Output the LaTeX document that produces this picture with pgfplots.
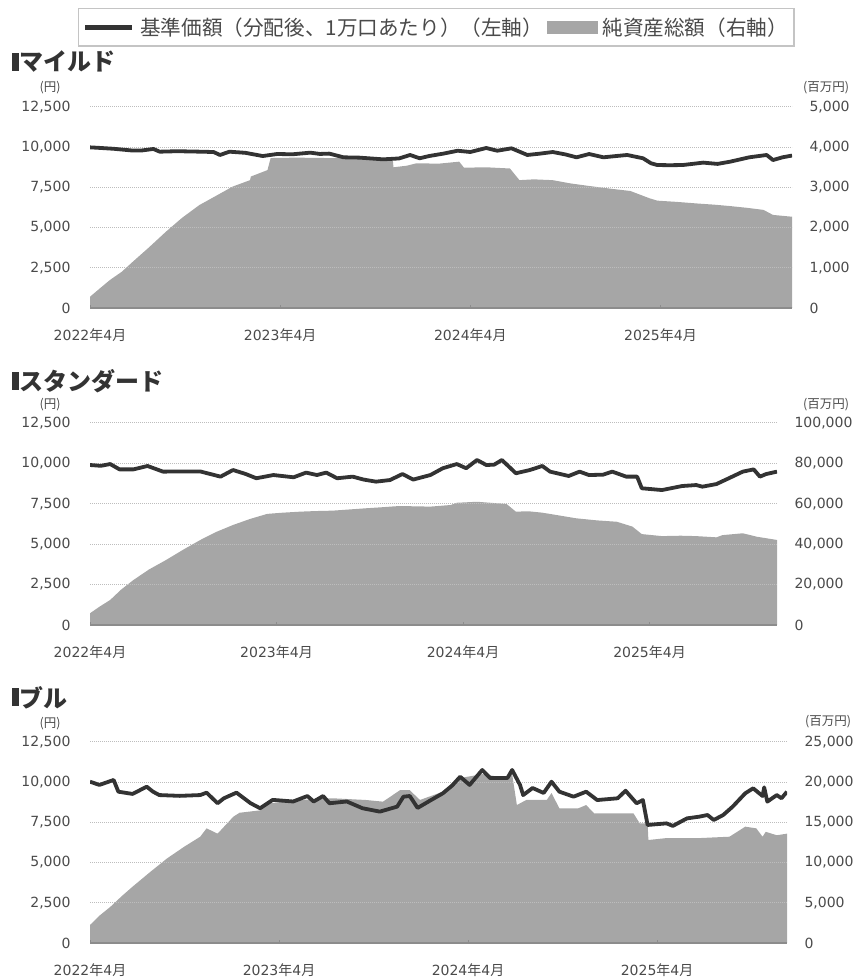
\documentclass[border=0pt]{standalone}
\usepackage{fontspec}
\setmainfont{Noto Sans CJK JP}
\newfontfamily\jp{Noto Sans CJK JP}
\newfontfamily\numfont{DejaVu Sans}
\usepackage{pgfplots}
\pgfplotsset{compat=1.18}

\definecolor{navline}{HTML}{333333}
\definecolor{areagray}{HTML}{A6A6A6}
\definecolor{gridgray}{HTML}{BDBDBD}
\definecolor{legendgray}{HTML}{C4C4C4}
\definecolor{txtgray}{HTML}{4A4A4A}
\definecolor{basegray}{HTML}{8C8C8C}

\pgfplotsset{
  panel/.style={
    scale only axis, anchor=south west, xmin=0,
    ymin=0,
    ticklabel style={font=\numfont\fontsize{14}{16}\selectfont, text=txtgray},
    /pgf/number format/fixed,
    /pgf/number format/assume math mode=true,
    /pgf/number format/1000 sep={,},
    scaled y ticks=false,
  },
  leftax/.style={
    panel, ymax=12500, ytick={0,2500,...,12500},
    axis x line*=bottom, axis y line*=left,
    y axis line style={draw=none},
    x axis line style={draw=basegray, line width=1.2pt, -},
    ymajorgrids, major grid style={gridgray, line width=1pt, dash pattern=on 1pt off 1pt},
    xtick={0,12,24,36},
    xticklabels={2022{\jp 年}4{\jp 月},2023{\jp 年}4{\jp 月},2024{\jp 年}4{\jp 月},2025{\jp 年}4{\jp 月}},
    xtick style={draw=basegray, line width=1pt},
    major tick length=3pt,
    ytick style={draw=none},
    yticklabel style={xshift=-16pt},
    xticklabel style={yshift=-17pt},
  },
  rightax/.style={
    panel, axis x line=none, axis y line*=right,
    y axis line style={draw=none}, ytick style={draw=none},
    yticklabel style={anchor=west, xshift=14pt},
  },
  nav/.style={navline, line width=3.8pt, line join=round},
  aum/.style={fill=areagray, draw=none},
}

\begin{document}
\begin{tikzpicture}
\useasboundingbox (0,0) rectangle (856pt,979pt);

% ---------- マイルド ----------
\begin{axis}[rightax, at={(90pt,671pt)}, width=702pt, height=201pt, xmax=44.3,
  ymax=5000, ytick={0,1000,...,5000}]
\addplot[aum] coordinates {
(0,280)(0.6,480)(1.26,697)(2,900)(2.7,1150)(3.7,1500)(4.8,1900)(5.8,2240)(6.9,2560)(8,2800)(9,3020)(10.1,3180)(10.15,3270)(11.2,3430)(11.4,3730)(13,3740)(15,3730)(17,3720)(19.1,3720)(19.15,3500)(20,3540)(20.6,3600)(22,3590)(23.3,3640)(23.6,3490)(25,3500)(26.5,3470)(27.1,3180)(28,3200)(29.2,3180)(30.3,3100)(31.5,3035)(32.8,2970)(34.1,2910)(35.3,2730)(35.8,2670)(37,2640)(38.3,2600)(39.4,2570)(40.4,2535)(41.5,2490)(42.5,2440)(43.1,2315)(44.3,2270)
} \closedcycle;
\end{axis}
\begin{axis}[leftax, at={(90pt,671pt)}, width=702pt, height=201pt, xmax=44.3,
  legend columns=2,
  legend style={at={(0.4934,1.4925)}, anchor=north, draw=legendgray, line width=1.5pt,
    font=\jp\fontsize{20.6}{23}\selectfont, text=txtgray, inner xsep=4pt, inner ysep=8pt,
    nodes={inner xsep=2pt, inner ysep=1pt},
    /tikz/every odd column/.append style={column sep=3pt},
    /tikz/every even column/.append style={column sep=2pt}},
  legend cell align=left]
\addplot[nav, forget plot] coordinates {
(0,9990)(0.7,9950)(1.5,9900)(2.7,9790)(3.3,9800)(4,9890)(4.4,9720)(5.5,9750)(7,9720)(7.8,9700)(8.2,9515)(8.8,9720)(9.8,9650)(10.9,9450)(11.8,9575)(12.8,9560)(13.9,9660)(14.5,9580)(15.1,9600)(16,9370)(17,9350)(18.5,9245)(19.5,9300)(20.2,9515)(20.8,9310)(21.4,9450)(22.3,9600)(23.2,9780)(24,9700)(25,9950)(25.7,9780)(26.6,9930)(27.6,9515)(28.4,9600)(29.2,9700)(30,9550)(30.7,9370)(31.5,9575)(32.4,9370)(33.2,9450)(33.9,9515)(34.9,9310)(35.4,9000)(35.8,8890)(36.6,8880)(37.4,8890)(38.7,9040)(39.6,8960)(40.4,9100)(41.6,9370)(42.7,9515)(43.1,9200)(43.7,9370)(44.3,9480)
};
\addlegendimage{legend image code/.code={\draw[navline, line width=5.5pt] (0pt,0pt) -- (47pt,0pt);}}
\addlegendentry{基準価額（分配後、1万口あたり）（左軸）}
\addlegendimage{legend image code/.code={\fill[areagray] (0pt,-6pt) rectangle (49pt,6pt);}}
\addlegendentry{純資産総額（右軸）}
\end{axis}

% ---------- スタンダード ----------
\begin{axis}[rightax, at={(90pt,354pt)}, width=687pt, height=202pt, xmax=44.2,
  ymax=100000, ytick={0,20000,...,100000}]
\addplot[aum] coordinates {
(0,5800)(0.6,9000)(1.3,12400)(2,17500)(2.8,22300)(3.8,27500)(4.9,32200)(6,37300)(7.1,42100)(8.1,46000)(9.2,49500)(10.3,52500)(11.4,55000)(12.4,55600)(13.5,56100)(14.5,56400)(15.6,56600)(16.7,57200)(17.8,57800)(18.8,58300)(19.9,58900)(21.9,58600)(23.2,59400)(23.6,60500)(24.9,61000)(26.8,59900)(27.4,56100)(28.2,56300)(29.1,55600)(30.2,54200)(31.3,52800)(32.6,51800)(33.9,51100)(34.9,48700)(35.5,45000)(36.8,44000)(38,44200)(39,44000)(40.3,43400)(40.7,44500)(42,45400)(42.9,43700)(44.2,42100)
} \closedcycle;
\end{axis}
\begin{axis}[leftax, at={(90pt,354pt)}, width=687pt, height=202pt, xmax=44.2]
\addplot[nav] coordinates {
(0,9900)(0.7,9850)(1.3,9960)(1.9,9630)(2.8,9630)(3.7,9840)(4.7,9490)(5.8,9500)(7.1,9500)(8.4,9180)(9.2,9590)(10,9350)(10.7,9080)(11.8,9280)(13.1,9140)(13.9,9430)(14.6,9280)(15.2,9430)(15.9,9080)(16.9,9180)(17.6,9000)(18.4,8870)(19.3,8970)(20.1,9340)(20.8,9000)(21.9,9280)(22.7,9700)(23.6,9960)(24.2,9700)(24.9,10210)(25.5,9900)(26,9920)(26.5,10210)(27.4,9390)(28.3,9590)(29.1,9840)(29.6,9490)(30.8,9220)(31.5,9490)(32.1,9280)(33,9300)(33.6,9490)(34.5,9180)(35.2,9180)(35.5,8460)(36.8,8350)(38.1,8600)(39,8660)(39.4,8560)(40.3,8720)(41.1,9080)(42,9490)(42.7,9630)(43.1,9180)(43.5,9340)(44.2,9490)
};
\end{axis}

% ---------- ブル ----------
\begin{axis}[rightax, at={(90pt,36pt)}, width=697pt, height=201pt, xmax=44.25,
  ymax=25000, ytick={0,5000,...,25000}]
\addplot[aum] coordinates {
(0,2240)(0.6,3400)(1.3,4510)(2,5800)(2.7,7000)(3.8,8800)(4.9,10530)(6,12000)(7,13220)(7.4,14260)(8.1,13600)(9.1,15710)(9.5,16200)(10.8,16500)(11.4,17370)(13.3,17790)(15.4,18000)(17.5,17790)(18.6,17580)(19.7,19030)(20.3,19000)(20.95,17790)(22.4,18820)(23.5,20520)(24.9,21000)(26.2,20600)(26.8,21000)(27.1,17160)(27.7,17790)(29,17790)(29.3,18650)(29.8,16750)(31,16750)(31.5,17160)(32,16130)(34.5,16130)(34.9,14890)(35.4,14890)(35.45,12810)(36.6,13050)(38.7,13050)(40.6,13220)(41.6,14470)(42.3,14260)(42.7,13220)(42.9,13830)(43.6,13400)(44.25,13600)
} \closedcycle;
\end{axis}
\begin{axis}[leftax, at={(90pt,36pt)}, width=697pt, height=201pt, xmax=44.25]
\addplot[nav] coordinates {
(0,10030)(0.6,9830)(1.5,10140)(1.8,9410)(2.7,9270)(3.6,9720)(4,9410)(4.4,9200)(5.7,9150)(7,9200)(7.4,9350)(8.1,8690)(8.5,9000)(9.3,9350)(10.2,8690)(10.8,8380)(11.6,8900)(12.9,8800)(13.8,9140)(14.2,8800)(14.8,9140)(15.2,8690)(16.3,8800)(17.3,8380)(18.4,8170)(19.5,8480)(19.9,9100)(20.3,9140)(20.8,8400)(21.6,8860)(22.4,9310)(23,9800)(23.5,10340)(24.1,9830)(24.9,10760)(25.4,10260)(26.5,10260)(26.8,10760)(27.3,9830)(27.5,9200)(28.1,9640)(28.8,9330)(29.3,10030)(29.8,9410)(30.7,9100)(31.5,9410)(32.2,8890)(33.5,9000)(34,9470)(34.7,8690)(35.1,8890)(35.4,7340)(36.6,7440)(37,7280)(37.9,7750)(38.7,7860)(39.2,7960)(39.6,7650)(40.2,7960)(40.8,8480)(41.6,9310)(42.1,9620)(42.7,9140)(42.8,9680)(43,8790)(43.6,9200)(43.9,9000)(44.25,9410)
};
\end{axis}

% ---------- titles and units ----------
\foreach \ty/\tt in {917/マイルド, 598/スタンダード, 281.5/ブル}{
  \fill[navline] (12pt,\ty pt-9pt) rectangle (18.5pt,\ty pt+9pt);
  \node[anchor=west, inner sep=0pt, font=\jp\bfseries\fontsize{24}{26}\selectfont, text=navline] at (19pt,\ty pt) {\tt};
}
\foreach \uy in {891, 574, 255}{
  \node[inner sep=0pt, font=\jp\fontsize{12.5}{14}\selectfont, text=txtgray] at (50pt,\uy pt) {(円)};
}
\node[inner sep=0pt, font=\jp\fontsize{12.5}{14}\selectfont, text=txtgray] at (826pt,891pt) {(百万円)};
\node[inner sep=0pt, font=\jp\fontsize{12.5}{14}\selectfont, text=txtgray] at (826pt,574pt) {(百万円)};
\node[inner sep=0pt, font=\jp\fontsize{12.5}{14}\selectfont, text=txtgray] at (828pt,257pt) {(百万円)};
\end{tikzpicture}
\end{document}
